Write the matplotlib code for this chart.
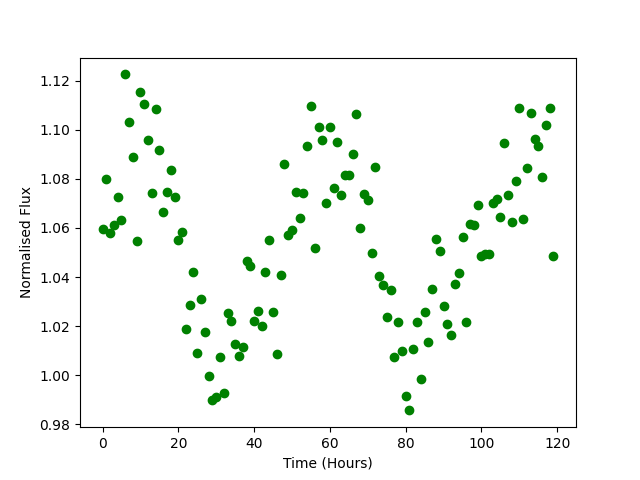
import numpy as np
import matplotlib
matplotlib.use("Agg")
import matplotlib.pyplot as plt

hours = np.arange(120)
flux = [
    1.0594, 1.0800, 1.0580, 1.0610, 1.0724, 1.0634, 1.1225, 1.1033, 1.0890, 1.0545,
    1.1152, 1.1103, 1.0956, 1.0744, 1.1086, 1.0919, 1.0663, 1.0748, 1.0834, 1.0724,
    1.0549, 1.0585, 1.0190, 1.0288, 1.0422, 1.0089, 1.0309, 1.0178, 0.9999, 0.9898,
    0.9910, 1.0073, 0.9926, 1.0252, 1.0219, 1.0126, 1.0077, 1.0117, 1.0467, 1.0443,
    1.0219, 1.0260, 1.0199, 1.0419, 1.0549, 1.0256, 1.0085, 1.0410, 1.0862, 1.0573,
    1.0590, 1.0748, 1.0642, 1.0744, 1.0935, 1.1098, 1.0520, 1.1009, 1.0956, 1.0703,
    1.1009, 1.0764, 1.0948, 1.0732, 1.0817, 1.0817, 1.0899, 1.1062, 1.0598, 1.0740,
    1.0712, 1.0496, 1.0846, 1.0406, 1.0366, 1.0239, 1.0349, 1.0073, 1.0215, 1.0100,
    0.9914, 0.9857, 1.0109, 1.0215, 0.9983, 1.0256, 1.0134, 1.0353, 1.0553, 1.0504,
    1.0284, 1.0207, 1.0162, 1.0370, 1.0415, 1.0561, 1.0215, 1.0614, 1.0610, 1.0695,
    1.0484, 1.0492, 1.0492, 1.0703, 1.0716, 1.0646, 1.0944, 1.0732, 1.0626, 1.0789,
    1.1090, 1.0638, 1.0842, 1.1066, 1.0960, 1.0935, 1.0809, 1.1017, 1.1090, 1.0484,
]

fig, ax = plt.subplots(figsize=(6.4, 4.8), dpi=100)
ax.plot(hours, flux, 'o', color='green')
ax.set_xlabel("Time (Hours)")
ax.set_ylabel("Normalised Flux")
fig.savefig("out.png")
